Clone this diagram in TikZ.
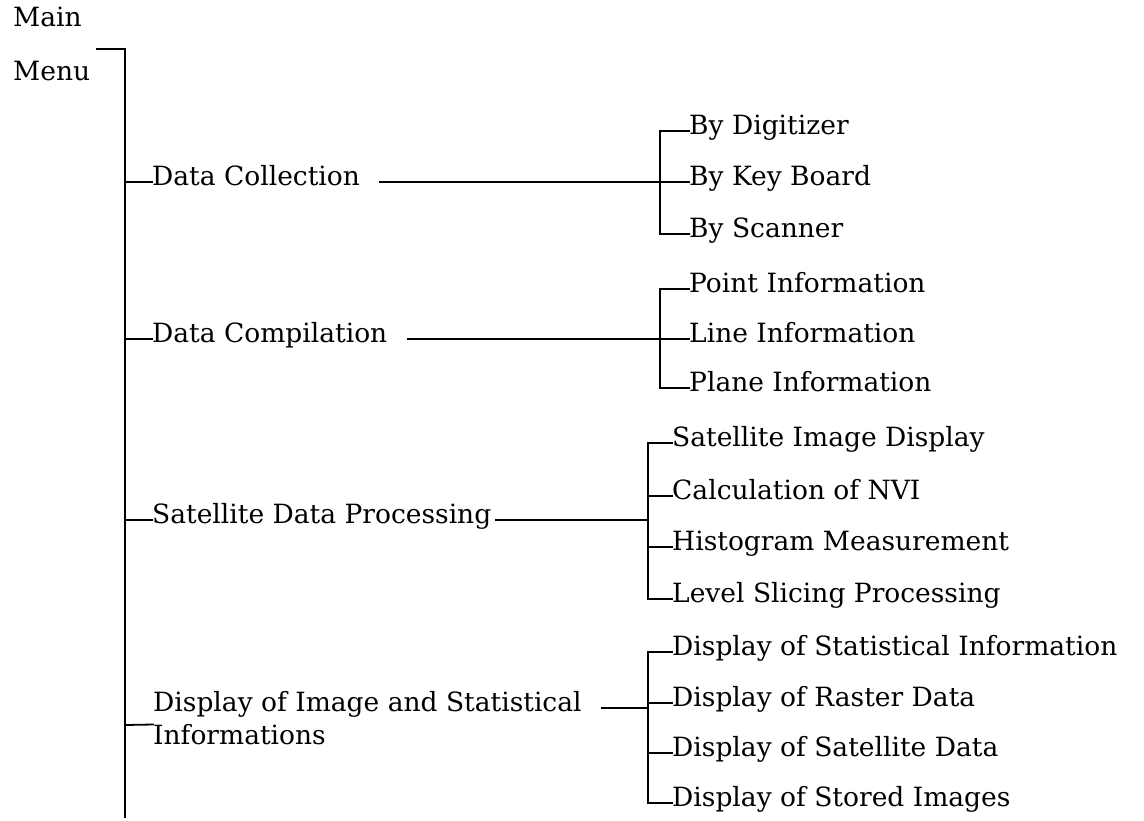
\documentclass[tikz,border=0pt]{standalone}
\usepackage{fontspec}
\setmainfont{DejaVu Serif}
\usetikzlibrary{positioning,calc}
\tikzset{
  entry/.style={inner sep=0pt, anchor=west, text height=0.73em, text depth=0pt,
    font=\fontsize{26.5}{31}\selectfont},
  link/.style={line width=1.8pt, line cap=rect},
}

\begin{document}
\begin{tikzpicture}[x=1pt, y=-1pt]
        \useasboundingbox (0,0) rectangle (1144,820);
        \node[entry] (main) at (13,23) {Main};
        \node[entry] (menu) at (13,77) {Menu};
        \coordinate (top) at (97,49);
        \coordinate (trunk) at (125,49);
        \coordinate (bottom) at (125,817);
        \coordinate (bara) at (660,0);
        \coordinate (barb) at (648,0);
        % first level
        \node[entry] (coll) at (152,182) {Data Collection};
        \node[entry] (comp) at (152,339) {Data Compilation};
        \node[entry] (proc) at (152,520) {Satellite Data Processing};
        \node[entry] (disp) at (153,708) {Display of Image and Statistical};
        \node[entry] (disp2) at (153,741) {Informations};
        % second level
        \node[entry] (dig) at (689,131) {By Digitizer};
        \node[entry] (key) at (689,182) {By Key Board};
        \node[entry] (scan) at (689,234) {By Scanner};
        \node[entry] (point) at (689,289) {Point Information};
        \node[entry] (line) at (689,339) {Line Information};
        \node[entry] (plane) at (689,388) {Plane Information};
        \node[entry] (simg) at (672,443) {Satellite Image Display};
        \node[entry] (nvi) at (672,496) {Calculation of NVI};
        \node[entry] (hist) at (672,547) {Histogram Measurement};
        \node[entry] (slice) at (672,599) {Level Slicing Processing};
        \node[entry] (stat) at (672,652) {Display of Statistical Information};
        \node[entry] (rast) at (672,703) {Display of Raster Data};
        \node[entry] (sdat) at (672,753) {Display of Satellite Data};
        \node[entry] (stor) at (672,803) {Display of Stored Images};

        \draw[link] (top) -- (trunk) -- (bottom);
        \draw[link] (trunk |- coll.west) -- (coll.west);
        \draw[link] (trunk |- comp.west) -- (comp.west);
        \draw[link] (trunk |- proc.west) -- (proc.west);
        \draw[link] (trunk |- 0,725) -- ($(disp.west)!0.5!(disp2.west)$);

        \draw[link] ([xshift=20pt]coll.east) -- (bara |- coll.east);
        \draw[link] (dig.west) -- (bara |- dig.west) -- (bara |- scan.west) -- (scan.west);
        \draw[link] (bara |- key.west) -- (key.west);

        \draw[link] ([xshift=20pt]comp.east) -- (bara |- comp.east);
        \draw[link] (point.west) -- (bara |- point.west) -- (bara |- plane.west) -- (plane.west);
        \draw[link] (bara |- line.west) -- (line.west);

        \draw[link] ([xshift=4pt]proc.east) -- (barb |- proc.east);
        \draw[link] (simg.west) -- (barb |- simg.west) -- (barb |- slice.west) -- (slice.west);
        \draw[link] (barb |- nvi.west) -- (nvi.west);
        \draw[link] (barb |- hist.west) -- (hist.west);

        \draw[link] ([xshift=20pt]disp.east) -- (barb |- disp.east);
        \draw[link] (stat.west) -- (barb |- stat.west) -- (barb |- stor.west) -- (stor.west);
        \draw[link] (barb |- rast.west) -- (rast.west);
        \draw[link] (barb |- sdat.west) -- (sdat.west);
\end{tikzpicture}
\end{document}
